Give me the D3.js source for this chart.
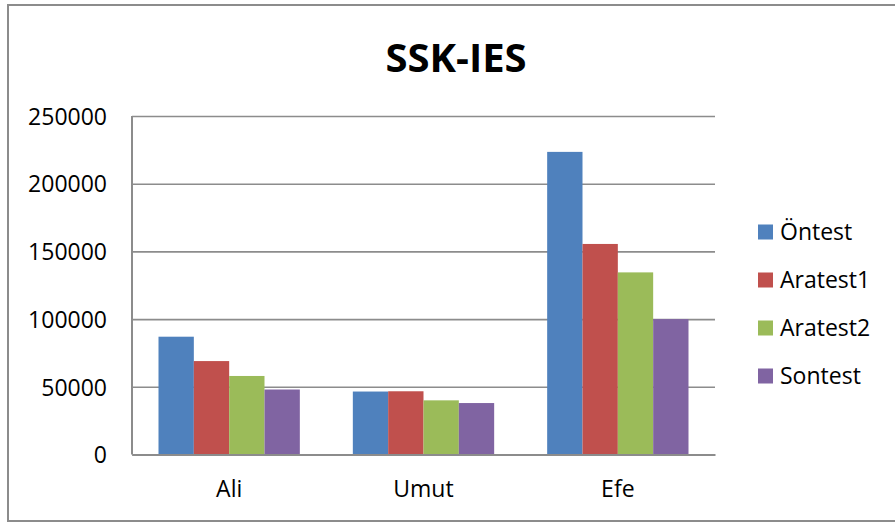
<!DOCTYPE html>
<html>
<head>
<meta charset="utf-8">
<script src="https://cdn.jsdelivr.net/npm/d3@7"></script>
<style>
  body { margin: 0; background: #fff; }
  svg { display: block; }
</style>
</head>
<body>
<svg id="area" width="895" height="523"></svg>
<script>
const categories = ['Ali', 'Umut', 'Efe'];
const seriesNames = ['Öntest', 'Aratest1', 'Aratest2', 'Sontest'];
const ontest = [87000, 46500, 223500];
const aratest1 = [69000, 46700, 155500];
const aratest2 = [58000, 40000, 134500];
const sontest = [48000, 38000, 100000];
const yTicks = [0, 50000, 100000, 150000, 200000, 250000];
const colors = ['#4F81BD', '#C0504D', '#9BBB59', '#8064A2'];

const values = [ontest, aratest1, aratest2, sontest];
const rows = categories.map((c, i) => ({
  category: c,
  vals: seriesNames.map((s, j) => ({ key: s, value: values[j][i] })),
}));

const svg = d3.select('#area');
const font = "'Open Sans', sans-serif";
const gridColor = '#8c8c8c';

// outer chart frame
svg.append('rect')
  .attr('x', 8)
  .attr('y', 5)
  .attr('width', 900)
  .attr('height', 516)
  .attr('fill', '#fff')
  .attr('stroke', '#8c8c8c')
  .attr('stroke-width', 2);

const plot = { left: 132, right: 715, top: 116, bottom: 454.5 };

const y = d3.scaleLinear()
  .domain([0, 250000])
  .range([plot.bottom, plot.top]);

const x0 = d3.scaleBand()
  .domain(categories)
  .range([plot.left, plot.right])
  .padding(0);

// gap width 150% of one bar
const gap = x0.bandwidth() * 1.5 / 5.5;
const x1 = d3.scaleBand()
  .domain(seriesNames)
  .range([gap / 2, x0.bandwidth() - gap / 2])
  .padding(0);

const color = d3.scaleOrdinal().domain(seriesNames).range(colors);

// gridlines + y labels
const yAxis = d3.axisLeft(y)
  .tickValues(yTicks)
  .tickSize(-(plot.right - plot.left))
  .tickPadding(25)
  .tickFormat(d3.format('d'));

svg.append('g')
  .attr('transform', `translate(${plot.left},0)`)
  .call(yAxis)
  .call((g) => g.select('.domain').remove())
  .call((g) => g.selectAll('.tick line')
    .attr('stroke', gridColor)
    .attr('stroke-width', 1.6))
  .call((g) => g.selectAll('.tick text')
    .attr('fill', '#000')
    .attr('dy', '0.36em')
    .style('font', `23px ${font}`));

// bars
svg.append('g')
  .selectAll('g')
  .data(rows)
  .join('g')
  .attr('transform', (d) => `translate(${x0(d.category)},0)`)
  .selectAll('rect')
  .data((d) => d.vals)
  .join('rect')
  .attr('x', (d) => x1(d.key))
  .attr('y', (d) => y(d.value))
  .attr('width', x1.bandwidth())
  .attr('height', (d) => y(0) - y(d.value))
  .attr('fill', (d) => color(d.key));

// axis lines
svg.append('line')
  .attr('x1', plot.left).attr('x2', plot.left)
  .attr('y1', plot.top).attr('y2', plot.bottom)
  .attr('stroke', gridColor)
  .attr('stroke-width', 2);

const xAxis = d3.axisBottom(x0).tickSize(0).tickPadding(26);
svg.append('g')
  .attr('transform', `translate(0,${plot.bottom})`)
  .call(xAxis)
  .call((g) => g.select('.domain')
    .attr('stroke', gridColor)
    .attr('stroke-width', 2))
  .call((g) => g.selectAll('.tick text')
    .attr('fill', '#000')
    .style('font', `23px ${font}`));

// title
svg.append('text')
  .attr('x', 456)
  .attr('y', 72)
  .attr('text-anchor', 'middle')
  .style('font', `bold 40px ${font}`)
  .text('SSK-IES');

// legend
const legend = svg.append('g')
  .selectAll('g')
  .data(seriesNames)
  .join('g')
  .attr('transform', (d, i) => `translate(758,${232 + i * 48})`);

legend.append('rect')
  .attr('x', 0)
  .attr('y', -7.5)
  .attr('width', 15)
  .attr('height', 15)
  .attr('fill', (d) => color(d));

legend.append('text')
  .attr('x', 22)
  .attr('dy', '0.36em')
  .style('font', `23px ${font}`)
  .text((d) => d);
</script>
</body>
</html>
